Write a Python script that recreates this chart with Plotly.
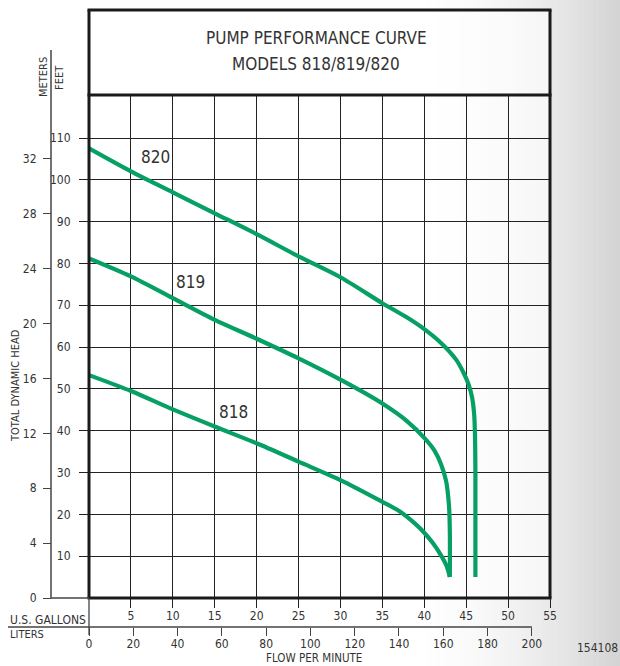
import plotly.graph_objects as go

# ---------------- data ----------------
models = ["818", "819", "820"]

flow_818 = [0, 5, 10, 15, 20, 25, 30, 35, 37, 39, 40, 41, 42, 42.7, 43.05]
head_818 = [53.3, 49.5, 45.1, 41.0, 37.0, 32.6, 28.2, 23.0, 20.8, 17.6, 15.6, 13.2, 10.2, 7.5, 5.0]

flow_819 = [0, 5, 10, 15, 20, 25, 30, 35, 38, 40, 41.2, 42.0, 42.6, 42.95, 43.05, 43.05]
head_819 = [81.2, 76.9, 71.7, 66.5, 62.0, 57.3, 52.2, 46.5, 42.2, 38.3, 35.3, 32.0, 28.0, 22.0, 16.0, 5.0]

flow_820 = [0, 5, 10, 15, 20, 25, 30, 35, 38, 40, 42, 43.8, 44.7, 45.3, 45.7, 45.95, 46.05, 46.1, 46.1]
head_820 = [107.5, 102.0, 97.0, 92.0, 87.0, 81.7, 76.7, 70.5, 67.0, 64.3, 61.0, 57.0, 53.8, 51.0, 48.0, 44.0, 39.0, 30.0, 5.0]

label_flow = [17.2, 12.1, 7.9]
label_head = [44.5, 75.6, 105.5]

gallon_ticks = [5, 10, 15, 20, 25, 30, 35, 40, 45, 50, 55]
feet_ticks = [10, 20, 30, 40, 50, 60, 70, 80, 90, 100, 110]
meter_ticks = [0, 4, 8, 12, 16, 20, 24, 28, 32]
liter_ticks = [0, 20, 40, 60, 80, 100, 120, 140, 160, 180, 200]

FT_PER_M = 3.28084
L_PER_GAL = 3.78541

# ---------------- layout geometry (pixels) ----------------
W, H = 620, 666
PX_L, PX_R = 89, 550
PY_T, PY_B = 95, 598
BOX_TOP = 10
X_MAX = 55
Y_MAX = (PY_B - PY_T) / ((PY_B - 138) / 110.0)


def fx(px):
    return px / W


def fy(py):
    return 1 - py / H


FONT = "Liberation Sans Narrow, DejaVu Sans Condensed, Arial Narrow, sans-serif"
TXT = "#333333"
LINE = "#222222"
GREEN = "#07a064"

fig = go.Figure()

series = [(flow_818, head_818), (flow_819, head_819), (flow_820, head_820)]
for name, (fl, hd) in zip(models, series):
    fig.add_trace(go.Scatter(
        x=fl, y=hd, mode="lines", name=name,
        line=dict(color=GREEN, width=4.2, shape="spline", smoothing=0.8),
        hoverinfo="skip", showlegend=False,
    ))

fig.add_trace(go.Scatter(x=[None], y=[None], yaxis="y2", showlegend=False, hoverinfo="skip"))
fig.add_trace(go.Scatter(x=[None], y=[None], xaxis="x2", showlegend=False, hoverinfo="skip"))

for name, lx, ly in zip(models, label_flow, label_head):
    fig.add_annotation(x=lx, y=ly, xref="x", yref="y", text=name, showarrow=False,
                       font=dict(family=FONT, size=17, color=TXT))

shapes = []

n = 40
x0p = 410
for i in range(n):
    a = x0p + (W - x0p) * i / n
    b = x0p + (W - x0p) * (i + 1) / n + 0.5
    t = ((a + b) / 2 - x0p) / (W - x0p)
    g = int(round(255 - 44 * t ** 1.7))
    shapes.append(dict(type="rect", xref="paper", yref="paper",
                       x0=fx(a), x1=fx(b), y0=0, y1=1, layer="below",
                       line=dict(width=0), fillcolor=f"rgb({g},{g},{g})"))

shapes.append(dict(type="rect", xref="paper", yref="paper", x0=fx(PX_L), x1=fx(PX_R),
                   y0=fy(PY_B), y1=fy(BOX_TOP), layer="below", line=dict(width=0),
                   fillcolor="rgba(255,255,255,0.6)"))

THICK = 3
for (a, b, c, d) in [
    (PX_L, BOX_TOP, PX_L, PY_B),
    (PX_R, BOX_TOP, PX_R, PY_B),
    (PX_L - 1.5, BOX_TOP, PX_R + 1.5, BOX_TOP),
    (PX_L - 1.5, PY_T, PX_R + 1.5, PY_T),
    (PX_L - 1.5, PY_B, PX_R + 1.5, PY_B),
]:
    shapes.append(dict(type="line", xref="paper", yref="paper",
                       x0=fx(a), y0=fy(b), x1=fx(c), y1=fy(d),
                       line=dict(color="#1a1a1a", width=THICK), layer="above"))

shapes.append(dict(type="line", xref="paper", yref="paper", x0=fx(51), x1=fx(51),
                   y0=fy(50), y1=fy(PY_B), line=dict(color="#444444", width=1.5)))
shapes.append(dict(type="line", xref="paper", yref="paper", x0=fx(51), x1=fx(PX_L),
                   y0=fy(PY_B), y1=fy(PY_B), line=dict(color="#444444", width=1.5)))
shapes.append(dict(type="line", xref="paper", yref="paper", x0=fx(PX_L), x1=fx(PX_L),
                   y0=fy(PY_B), y1=fy(635), line=dict(color="#444444", width=1.3)))
shapes.append(dict(type="line", xref="paper", yref="paper", x0=fx(8), x1=fx(532),
                   y0=fy(627), y1=fy(627), line=dict(color="#444444", width=1.3)))

fig.update_layout(shapes=shapes)

ann = [
    ("PUMP PERFORMANCE CURVE", 316, 38, 17, "center"),
    ("MODELS 818/819/820", 316, 64, 17, "center"),
    ("U.S. GALLONS", 8, 620, 12, "left"),
    ("LITERS", 8, 634, 11, "left"),
    ("FLOW PER MINUTE", 314, 658, 11.5, "center"),
    ("154108", 575, 648, 12, "left"),
]
for text, px, py, size, align in ann:
    fig.add_annotation(x=fx(px), y=fy(py), xref="paper", yref="paper", text=text,
                       showarrow=False, xanchor=align, yanchor="middle",
                       font=dict(family=FONT, size=size, color=TXT))

for text, px, py, size in [("TOTAL DYNAMIC HEAD", 15, 386, 11), ("METERS", 43, 77, 11), ("FEET", 59, 77, 11)]:
    fig.add_annotation(x=fx(px), y=fy(py), xref="paper", yref="paper", text=text,
                       showarrow=False, textangle=-90, xanchor="center", yanchor="middle",
                       font=dict(family=FONT, size=size, color=TXT))

tickfont = dict(family=FONT, size=12, color=TXT)

fig.update_layout(
    width=W, height=H,
    autosize=False,
    margin=dict(l=0, r=0, t=0, b=0, pad=0, autoexpand=False),
    paper_bgcolor="white",
    plot_bgcolor="rgba(0,0,0,0)",
    showlegend=False,
    xaxis=dict(domain=[fx(PX_L), fx(PX_R)], range=[0, X_MAX], tickvals=gallon_ticks,
               ticks="outside", ticklen=9, tickwidth=1.2, tickcolor=LINE,
               showgrid=True, gridcolor=LINE, gridwidth=1.2, zeroline=False,
               showline=False, tickfont=tickfont, fixedrange=True, anchor="y",
               automargin=False, ticklabelstandoff=-2),
    yaxis=dict(domain=[fy(PY_B), fy(PY_T)], range=[0, Y_MAX], tickvals=feet_ticks,
               ticks="outside", ticklen=9, tickwidth=1.2, tickcolor=LINE,
               showgrid=True, gridcolor=LINE, gridwidth=1.2, zeroline=False,
               showline=False, tickfont=tickfont, fixedrange=True, anchor="x",
               ticklabelstandoff=6, automargin=False),
    yaxis2=dict(overlaying="y", anchor="free", position=fx(51), side="left",
                range=[0, Y_MAX / FT_PER_M], tickvals=meter_ticks,
                ticks="outside", ticklen=8, tickwidth=1.3, tickcolor="#444444",
                showgrid=False, zeroline=False, showline=False, tickfont=tickfont,
                fixedrange=True, ticklabelstandoff=4, automargin=False),
    xaxis2=dict(overlaying="x", anchor="free", position=fy(627), side="bottom",
                range=[0, X_MAX * L_PER_GAL], tickvals=liter_ticks,
                ticks="outside", ticklen=8, tickwidth=1.3, tickcolor="#444444",
                showgrid=False, zeroline=False, showline=False, tickfont=tickfont,
                fixedrange=True, automargin=False, ticklabelstandoff=-2),
)

fig.write_html(
    "out.html",
    config={"displayModeBar": False, "responsive": False},
    post_script=(
        "document.documentElement.style.overflow='hidden';"
        "document.body.style.overflow='hidden';"
        "document.body.style.margin='0';document.body.style.padding='0';"
    ),
)
